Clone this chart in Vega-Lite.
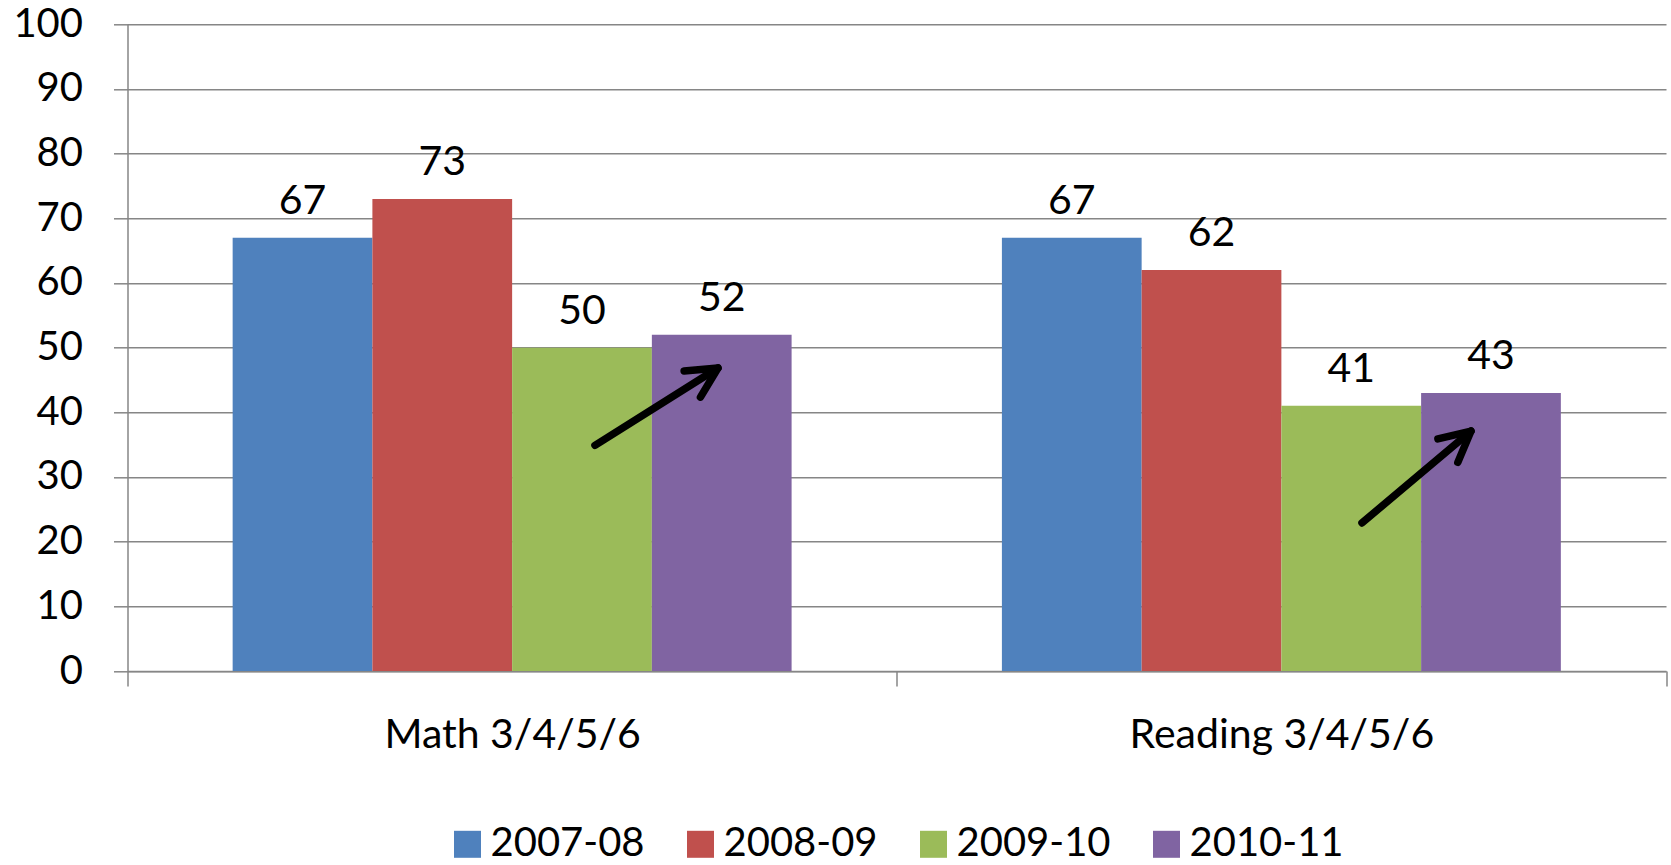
{
  "$schema": "https://vega.github.io/schema/vega-lite/v6.json",
  "width": 1538.5,
  "height": 646.7,
  "autosize": "none",
  "padding": {"left": 127.5, "top": 24.3, "right": 5.5, "bottom": 194},
  "background": "white",
  "config": {
    "view": {"stroke": null},
    "font": "Lato",
    "axis": {
      "labelFont": "Lato",
      "labelColor": "black",
      "tickColor": "#868686",
      "tickWidth": 1.5,
      "domainColor": "#868686",
      "domainWidth": 1.5,
      "gridColor": "#868686",
      "gridWidth": 1.5,
      "gridOpacity": 1,
      "title": null
    },
    "legend": {"padding": 0}
  },
  "datasets": {
    "bars": [
      {"subject": "Math 3/4/5/6", "year": "2007-08", "score": 67},
      {"subject": "Math 3/4/5/6", "year": "2008-09", "score": 73},
      {"subject": "Math 3/4/5/6", "year": "2009-10", "score": 50},
      {"subject": "Math 3/4/5/6", "year": "2010-11", "score": 52},
      {"subject": "Reading 3/4/5/6", "year": "2007-08", "score": 67},
      {"subject": "Reading 3/4/5/6", "year": "2008-09", "score": 62},
      {"subject": "Reading 3/4/5/6", "year": "2009-10", "score": 41},
      {"subject": "Reading 3/4/5/6", "year": "2010-11", "score": 43}
    ],
    "arrows": [
      {"subject": "Math", "x_tail": 0.6077, "y_tail": 34.9, "x_head": 0.7676, "y_head": 46.85},
      {"subject": "Reading", "x_tail": 1.6048, "y_tail": 22.9, "x_head": 1.7465, "y_head": 37.1}
    ]
  },
  "layer": [
    {
      "data": {"name": "bars"},
      "encoding": {
        "x": {
          "field": "subject", "type": "nominal", "sort": null,
          "scale": {"paddingInner": 0, "paddingOuter": 0},
          "axis": {"tickBand": "extent", "tickSize": 15, "labelPadding": 29, "labelFontSize": 41, "labelAngle": 0, "labelLimit": 0, "grid": false}
        },
        "xOffset": {
          "field": "year", "type": "nominal", "sort": null,
          "scale": {"paddingInner": 0, "paddingOuter": 0.7525}
        },
        "y": {
          "field": "score", "type": "quantitative",
          "scale": {"domain": [0, 100], "nice": false},
          "axis": {"values": [0, 10, 20, 30, 40, 50, 60, 70, 80, 90, 100], "tickSize": 14, "labelPadding": 31, "labelFontSize": 40, "grid": true}
        }
      },
      "layer": [
        {
          "mark": {"type": "bar"},
          "encoding": {
            "color": {
              "field": "year", "type": "nominal",
              "scale": {"domain": ["2007-08", "2008-09", "2009-10", "2010-11"], "range": ["#4F81BD", "#C0504D", "#9BBB59", "#8064A2"]},
              "legend": {
                "title": null, "orient": "none", "direction": "horizontal",
                "legendX": 320, "legendY": 800,
                "symbolType": "square", "symbolSize": 729, "symbolStrokeWidth": 0,
                "labelFontSize": 40, "labelFont": "Lato", "labelColor": "black",
                "labelOffset": 3, "columnPadding": 35
              }
            }
          }
        },
        {
          "mark": {"type": "text", "baseline": "alphabetic", "dy": -24, "fontSize": 41, "font": "Lato", "color": "black"},
          "encoding": {"text": {"field": "score", "type": "quantitative"}}
        }
      ]
    },
    {
      "data": {"name": "arrows"},
      "encoding": {
        "x": {"field": "x_tail", "type": "quantitative", "scale": {"domain": [0, 2], "nice": false, "zero": false}, "axis": null},
        "y": {"field": "y_tail", "type": "quantitative"}
      },
      "layer": [
        {
          "mark": {"type": "rule", "color": "black", "strokeWidth": 7.5, "strokeCap": "round"},
          "encoding": {
            "x2": {"field": "x_head"},
            "y2": {"field": "y_head"}
          }
        },
        {
          "transform": [{"filter": "datum.subject === 'Math'"}],
          "mark": {"type": "point", "shape": "M -0.454 0.891 L 0 0 L 0.454 0.891", "filled": false, "size": 4624, "stroke": "black", "strokeWidth": 7.5, "strokeCap": "round", "strokeJoin": "round", "opacity": 1, "angle": 58},
          "encoding": {
            "x": {"field": "x_head", "type": "quantitative"},
            "y": {"field": "y_head", "type": "quantitative"}
          }
        },
        {
          "transform": [{"filter": "datum.subject === 'Reading'"}],
          "mark": {"type": "point", "shape": "M -0.454 0.891 L 0 0 L 0.454 0.891", "filled": false, "size": 4624, "stroke": "black", "strokeWidth": 7.5, "strokeCap": "round", "strokeJoin": "round", "opacity": 1, "angle": 49.8},
          "encoding": {
            "x": {"field": "x_head", "type": "quantitative"},
            "y": {"field": "y_head", "type": "quantitative"}
          }
        }
      ]
    }
  ],
  "resolve": {"scale": {"x": "independent"}, "axis": {"x": "independent"}}
}
